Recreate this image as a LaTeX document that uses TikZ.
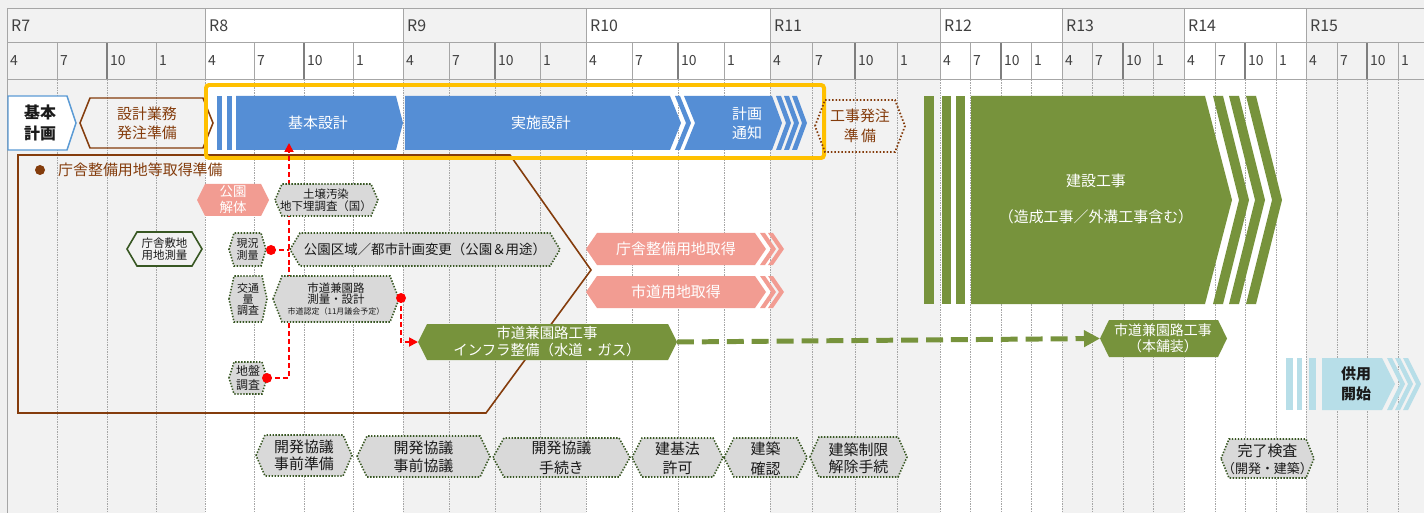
\documentclass[tikz,border=0pt]{standalone}
\usepackage{fontspec}
\setmainfont{Noto Sans CJK JP}
\usetikzlibrary{arrows.meta}
\definecolor{bgg}{HTML}{F2F2F2}
\definecolor{outg}{HTML}{F0F0F0}
\definecolor{gridc}{HTML}{A6A6A6}
\definecolor{gridd}{HTML}{7F7F7F}
\definecolor{blu}{HTML}{558ED5}
\definecolor{bluline}{HTML}{5B9BD5}
\definecolor{grn}{HTML}{77933C}
\definecolor{salm}{HTML}{F29C92}
\definecolor{lblu}{HTML}{B7DEE8}
\definecolor{brn}{HTML}{843C0C}
\definecolor{ylw}{HTML}{FFC000}
\definecolor{dgrn}{HTML}{385723}
\definecolor{hexg}{HTML}{D9D9D9}
\definecolor{txt}{HTML}{1A1A1A}
\definecolor{hdr}{HTML}{404040}
\newcommand{\hexag}[6]{%
  \path[#1] (#2,{(#4+#5)/2}) -- ({#2+#6},#4) -- ({#3-#6},#4) -- (#3,{(#4+#5)/2}) -- ({#3-#6},#5) -- ({#2+#6},#5) -- cycle;}
\tikzset{
  lab/.style={inner sep=0pt, align=center, text=txt},
  fs/.style n args={2}{font=\fontsize{#1}{#2}\selectfont},
  fsb/.style n args={2}{font=\fontsize{#1}{#2}\selectfont\bfseries},
  wt/.style={lab, text=white},
  greyhex/.style={fill=hexg, draw=dgrn, line width=1.6, dash pattern=on 1.4 off 1.6},
  redl/.style={red, line width=1.8, dash pattern=on 5 off 3},
  reddot/.style={fill=red},
}
\begin{document}
\begin{tikzpicture}[x=1bp,y=-1bp]
\useasboundingbox (0,0) rectangle (1424,513);
\fill[outg] (0,0) rectangle (1424,513);
% ---------- grid ----------
\foreach \a/\b/\c/\d/\e/\col/\lab in {7/57/107/156/205/bgg/R7, 205/254/304/353/403/white/R8, 403/449/495/540/586/bgg/R9, 586/632/678/724/770/white/R10, 770/812/855/897/940/bgg/R11, 940/970/1001/1031/1062/white/R12, 1062/1092/1123/1153/1184/bgg/R13, 1184/1215/1245/1276/1306/white/R14, 1306/1337/1367/1398/1424/bgg/R15}{
  \fill[\col] (\a,9) rectangle (\e,513);
  \foreach \q in {\a,\b,\c,\d} \draw[gridc, line width=0.8, dash pattern=on 1.5 off 1] (\q,80) -- (\q,513);
  \draw[gridc, line width=1] (\a,9) -- (\a,80);
  \draw[gridc, line width=0.9] (\b,43) -- (\b,80);
  \draw[gridd, line width=1.1] (\c,43) -- (\c,80);
  \draw[gridc, line width=0.9] (\d,43) -- (\d,80);
  \node[lab, text=hdr, fs={16}{18}, anchor=west] (y-\lab) at (\a+4,26) {\lab};
  \node[lab, text=hdr, fs={14}{16}, anchor=west] (m1-\lab) at (\a+3,61) {4};
  \node[lab, text=hdr, fs={14}{16}, anchor=west] (m2-\lab) at (\b+3,61) {7};
  \node[lab, text=hdr, fs={14}{16}, anchor=west] (m3-\lab) at (\c+3,61) {10};
  \node[lab, text=hdr, fs={14}{16}, anchor=west] (m4-\lab) at (\d+3,61) {1};
}
\draw[gridc, line width=1] (7,9) -- (1424,9);
\draw[gridc, line width=1] (7,43) -- (1424,43);
\draw[gridc, line width=1] (7,80) -- (1424,80);
\draw[gridc, line width=1] (7,9) -- (7,513);
% ---------- brown preparation area ----------
\draw[brn, line width=1.6] (18,155) -- (510,155) -- (591,270) -- (486,413) -- (18,413) -- cycle;
\fill[brn] (40,170) circle (5);
\node[lab, text=brn, fs={15}{18}, anchor=west] (junbi) at (58,170) {庁舎整備用地等取得準備};
% ---------- top row ----------
\path[fill=white, draw=bluline, line width=1.5] (8,96) -- (67,96) -- (76,123) -- (67,150) -- (8,150) -- cycle;
\node[lab, fsb={16}{21}] (kihonkeikaku) at (40,123) {基本\\計画};
\hexag{draw=brn, line width=1.5}{80}{213}{98}{148}{10}
\node[lab, text=brn, fs={15}{19}] (hacchu) at (147,123) {設計業務\\発注準備};
% blue design bars
\fill[blu] (217,96) rectangle (222,150);
\fill[blu] (227,96) rectangle (232,150);
\fill[blu] (236,96) -- (396,96) -- (403,123) -- (396,150) -- (236,150) -- cycle;
\node[wt, fs={15}{18}] (kihon) at (318,123) {基本設計};
\fill[blu] (405,96) -- (670,96) -- (681,123) -- (670,150) -- (405,150) -- cycle;
\node[wt, fs={15}{18}] (jisshi) at (541,123) {実施設計};
\fill[blu] (675,96) -- (680,96) -- (691,123) -- (680,150) -- (675,150) -- (686,123) -- cycle;
\fill[blu] (684,96) -- (772,96) -- (782,123) -- (772,150) -- (684,150) -- (695,123) -- cycle;
\node[wt, fs={15}{19}] (tsuchi) at (747,123) {計画\\通知};
\foreach \a in {776,784,792}
  \fill[blu] (\a,96) -- (\a+5,96) -- (\a+15,123) -- (\a+5,150) -- (\a,150) -- (\a+10,123) -- cycle;
\draw[ylw, line width=4, rounded corners=3] (206,85) rectangle (824,158);
\hexag{draw=brn, line width=1.8, dash pattern=on 1.5 off 2}{815}{905}{100}{152}{10}
\node[lab, text=brn, fs={15}{20}] (kojihacchu) at (860,126) {工事発注\\準\,備};
% construction
\fill[grn] (924,96) rectangle (934,304);
\fill[grn] (942,96) rectangle (951,304);
\fill[grn] (956,96) rectangle (965,304);
\fill[grn] (971,96) -- (1205,96) -- (1232,200) -- (1205,304) -- (971,304) -- cycle;
\foreach \a in {1213,1229,1246}
  \fill[grn] (\a,96) -- (\a+10,96) -- (\a+36,200) -- (\a+10,304) -- (\a,304) -- (\a+26,200) -- cycle;
\node[wt, fs={15}{37}] (kensetsu) at (1096,199) {建設工事\\（造成工事／外溝工事含む）};
% opening
\fill[lblu] (1286,358) rectangle (1293,410);
\fill[lblu] (1297,358) rectangle (1302,410);
\fill[lblu] (1309,358) rectangle (1316,410);
\fill[lblu] (1322,358) -- (1382,358) -- (1395,384) -- (1382,410) -- (1322,410) -- cycle;
\foreach \a in {1387,1395,1403}
  \fill[lblu] (\a,358) -- (\a+5,358) -- (\a+18,384) -- (\a+5,410) -- (\a,410) -- (\a+13,384) -- cycle;
\node[lab, fsb={15}{20}] (kyoyo) at (1356,384) {供用\\開始};
% ---------- land acquisition ----------
\fill[salm] (586,249) -- (597,233) -- (755,233) -- (766,249) -- (755,265) -- (597,265) -- cycle;
\foreach \a in {760,768}
  \fill[salm] (\a,233) -- (\a+5,233) -- (\a+16,249) -- (\a+5,265) -- (\a,265) -- (\a+11,249) -- cycle;
\node[wt, fs={15}{18}] (chosha) at (676,249) {庁舎整備用地取得};
\fill[salm] (586,292) -- (597,276) -- (755,276) -- (766,292) -- (755,308) -- (597,308) -- cycle;
\foreach \a in {760,768}
  \fill[salm] (\a,276) -- (\a+5,276) -- (\a+16,292) -- (\a+5,308) -- (\a,308) -- (\a+11,292) -- cycle;
\node[wt, fs={15}{18}] (shidoyochi) at (676,292) {市道用地取得};
% ---------- red connectors ----------
\coordinate (rdGK) at (271,250);
\coordinate (rdJB) at (267,378);
\coordinate (rdSD) at (401,298);
\coordinate (kihonB) at (289,143);
\coordinate (gkL) at (418,342);
\draw[redl, -{Triangle[length=9bp,width=9bp]}] (rdJB) -| (kihonB);
\draw[redl] (rdGK) -- (rdGK -| kihonB);
\draw[redl, -{Triangle[length=9bp,width=9bp]}] (rdSD) |- (gkL);
% ---------- small boxes ----------
\hexag{fill=salm}{197}{269}{184}{216}{8}
\node[wt, fs={13.5}{16}] (koen) at (233,200) {公園\\解体};
\hexag{greyhex}{275}{378}{184}{216}{7}
\node[lab, fs={11.5}{12.5}] (dojo) at (326,200) {土壌汚染\\地下埋調査（国）};
\hexag{fill=bgg, draw=dgrn, line width=1.6}{127}{202}{232}{266}{10}
\node[lab, fs={11.5}{11.5}] (shikichi) at (164.5,249) {庁舎敷地\\用地測量};
\hexag{greyhex}{229}{266}{233}{266}{5}
\node[lab, fs={11}{11.5}] (genkyo) at (247.5,249.5) {現況\\測量};
\hexag{greyhex}{290}{560}{233}{266}{10}
\node[lab, fs={13.5}{16}] (koenkuiki) at (425,249.5) {公園区域／都市計画変更（公園＆用途）};
\hexag{greyhex}{229}{267}{276}{322}{5}
\node[lab, fs={11}{11}] (kotsu) at (248,299) {交通\\量\\調査};
\hexag{greyhex}{273}{399}{276}{322}{9}
\node[lab, fs={11.5}{11.5}] (shidosokuryo) at (336,299) {市道兼園路\\測量・設計\\{\fontsize{8}{12}\selectfont 市道認定（11月議会予定）}};
\hexag{greyhex}{229}{267}{362}{394}{5}
\node[lab, fs={12}{15}] (jiban) at (248,378) {地盤\\調査};
\fill[reddot] (rdGK) circle (5);
\fill[reddot] (rdJB) circle (5);
\fill[reddot] (rdSD) circle (5);
% ---------- road works ----------
\hexag{fill=grn}{418}{677}{324}{360}{9}
\node[wt, fs={14.5}{17}] (shidokoji) at (547,342) {市道兼園路工事\\インフラ整備（水道・ガス）};
\hexag{fill=grn}{1100}{1227}{320}{357}{9}
\node[wt, fs={14}{16}] (honhoso) at (1163,338.5) {市道兼園路工事\\（本舗装）};
\coordinate (gkR) at (677,342);
\coordinate (hhL) at (1100,338.5);
\draw[grn, line width=5, dash pattern=on 17 off 8, -{Triangle[length=16bp,width=16bp]}] (gkR) -- (hhL);
% ---------- bottom procedures ----------
\hexag{greyhex}{256}{352}{435}{476}{9}
\node[lab, fs={15}{17}] (kaihatsu1) at (304,455.5) {開発協議\\事前準備};
\hexag{greyhex}{357}{490}{436}{477}{10}
\node[lab, fs={15}{18}] (kaihatsu2) at (423.5,456.5) {開発協議\\事前協議};
\hexag{greyhex}{493}{630}{438}{477}{11}
\node[lab, fs={15}{20}] (kaihatsu3) at (561.5,458) {開発協議\\手続き};
\hexag{greyhex}{632}{723}{438}{477}{10}
\node[lab, fs={15}{19}] (kenkiho) at (677.5,458) {建基法\\許可};
\hexag{greyhex}{724}{807}{438}{477}{10}
\node[lab, fs={15}{20}] (kakunin) at (765.5,459) {建築\\確認};
\hexag{greyhex}{810}{907}{437}{477}{9}
\node[lab, fs={15}{17}] (seigen) at (858.5,458) {建築制限\\解除手続};
\hexag{greyhex}{1221}{1314}{439}{478}{8}
\node[lab, fs={15}{17}] (kanryo) at (1267.5,459) {完了検査\\{\fontsize{13}{17}\selectfont （開発・建築）}};
\end{tikzpicture}
\end{document}
